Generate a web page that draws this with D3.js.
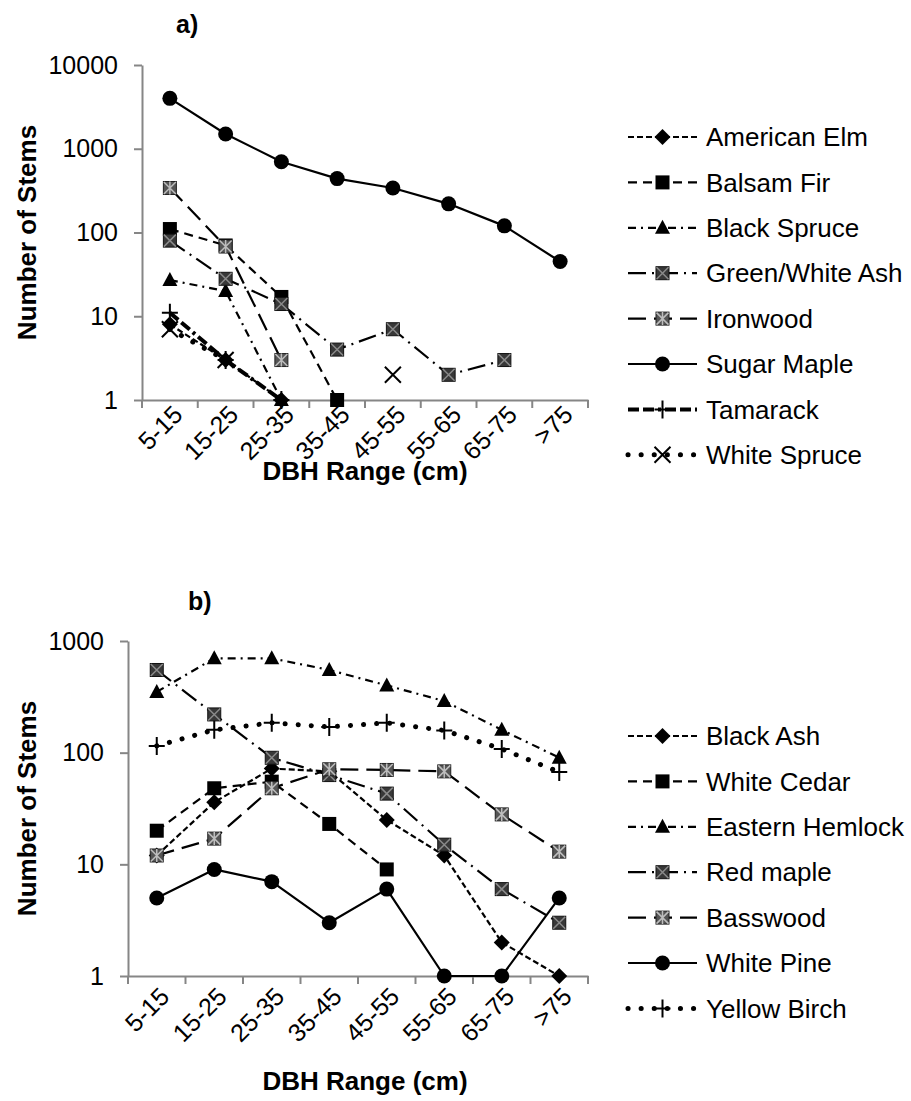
<!DOCTYPE html>
<html>
<head>
<meta charset="utf-8">
<script src="https://cdnjs.cloudflare.com/ajax/libs/d3/7.8.5/d3.min.js"></script>
<style>
  body { margin: 0; background: #fff; }
  text { font-family: "Liberation Sans", Arial, sans-serif; }
</style>
</head>
<body>
<svg id="chart" width="911" height="1101"></svg>
<script>
// DBH classes (x axis)
var dbhRanges = ["5-15", "15-25", "25-35", "35-45", "45-55", "55-65", "65-75", ">75"];

// panel a) - null = zero count, not drawn on log axis
var americanElm   = [8, 3, 1, null, null, null, null, null];
var balsamFir     = [110, 70, 17, 1, null, null, null, null];
var blackSpruce   = [27, 20, 1, null, null, null, null, null];
var greenWhiteAsh = [80, 28, 14, 4, 7, 2, 3, null];
var ironwood      = [340, 68, 3, null, null, null, null, null];
var sugarMaple    = [4000, 1500, 700, 440, 340, 220, 120, 45];
var tamarack      = [11, 3, 1, null, null, null, null, null];
var whiteSpruce   = [7, 3, null, null, 2, null, null, null];

// panel b)
var blackAsh       = [12, 36, 72, 68, 25, 12, 2, 1];
var whiteCedar     = [20, 48, 55, 23, 9, null, null, null];
var easternHemlock = [350, 700, 700, 550, 400, 290, 160, 90];
var redMaple       = [550, 220, 90, 63, 43, 15, 6, 3];
var basswood       = [12, 17, 48, 71, 70, 68, 28, 13];
var whitePine      = [5, 9, 7, 3, 6, 1, 1, 5];
var yellowBirch    = [115, 160, 185, 170, 185, 158, 108, 67];

var ticksA = [1, 10, 100, 1000, 10000];
var ticksB = [1, 10, 100, 1000];

// line styles (excel-ish dash types)
var styles = {
  sysDash:   { dash: "6,3", w: 2.2 },
  dash:      { dash: "9,6", w: 2.2 },
  dashDot:   { dash: "8,5,2,5", w: 2.2 },
  lgDashDot: { dash: "18,6,2,6", w: 2.2 },
  lgDash:    { dash: "18,8", w: 2.2 },
  solid:     { dash: null, w: 2.2 },
  thick:     { dash: "11,4,11,4,3,4", w: 4 },
  dots:      { dash: "0.1,13", w: 5, cap: "round" }
};

var panelA = {
  tag: "a)", tagX: 176, tagY: 33,
  top: 65, bottom: 400, left: 142, right: 588,
  ticks: ticksA, legendY: 137, labelDy: 10, titleY: 480,
  series: [
    { name: "American Elm", values: americanElm, line: "sysDash", mark: "diamond" },
    { name: "Balsam Fir", values: balsamFir, line: "dash", mark: "square" },
    { name: "Black Spruce", values: blackSpruce, line: "dashDot", mark: "triangle" },
    { name: "Green/White Ash", values: greenWhiteAsh, line: "lgDashDot", mark: "xsquare" },
    { name: "Ironwood", values: ironwood, line: "lgDash", mark: "starsquare" },
    { name: "Sugar Maple", values: sugarMaple, line: "solid", mark: "circle" },
    { name: "Tamarack", values: tamarack, line: "thick", mark: "plus" },
    { name: "White Spruce", values: whiteSpruce, line: "dots", mark: "cross" }
  ]
};

var panelB = {
  tag: "b)", tagX: 188, tagY: 610,
  top: 641, bottom: 976, left: 128, right: 588,
  ticks: ticksB, legendY: 736, labelDy: 16, titleY: 1090,
  series: [
    { name: "Black Ash", values: blackAsh, line: "sysDash", mark: "diamond" },
    { name: "White Cedar", values: whiteCedar, line: "dash", mark: "square" },
    { name: "Eastern Hemlock", values: easternHemlock, line: "dashDot", mark: "triangle" },
    { name: "Red maple", values: redMaple, line: "lgDashDot", mark: "xsquare" },
    { name: "Basswood", values: basswood, line: "lgDash", mark: "starsquare" },
    { name: "White Pine", values: whitePine, line: "solid", mark: "circle" },
    { name: "Yellow Birch", values: yellowBirch, line: "dots", mark: "plus" }
  ]
};

var svg = d3.select("#chart");
svg.append("rect").attr("width", 911).attr("height", 1101).attr("fill", "#fff");

function drawMarker(g, type, cx, cy) {
  var m = g.append("g").attr("transform", "translate(" + cx + "," + cy + ")");
  if (type == "diamond") {
    m.append("path").attr("d", "M0,-8L8,0L0,8L-8,0Z").attr("fill", "#000");
  } else if (type == "square") {
    m.append("rect").attr("x", -7).attr("y", -7).attr("width", 14).attr("height", 14).attr("fill", "#000");
  } else if (type == "triangle") {
    m.append("path").attr("d", "M0,-8L7.5,6L-7.5,6Z").attr("fill", "#000");
  } else if (type == "xsquare") {
    m.append("rect").attr("x", -6.5).attr("y", -6.5).attr("width", 13).attr("height", 13)
      .attr("fill", "#383838").attr("stroke", "#111").attr("stroke-width", 1);
    m.append("path").attr("d", "M-6,-6L6,6M6,-6L-6,6").attr("stroke", "#8a8a8a").attr("stroke-width", 1.5);
  } else if (type == "starsquare") {
    m.append("rect").attr("x", -6.5).attr("y", -6.5).attr("width", 13).attr("height", 13)
      .attr("fill", "#555").attr("stroke", "#222").attr("stroke-width", 1);
    m.append("path").attr("d", "M-6,-6L6,6M6,-6L-6,6M0,-6.5L0,6.5").attr("stroke", "#bdbdbd").attr("stroke-width", 1.5);
  } else if (type == "circle") {
    m.append("circle").attr("r", 7.5).attr("fill", "#000");
  } else if (type == "plus") {
    m.append("path").attr("d", "M-8,0L8,0M0,-9L0,9").attr("stroke", "#000").attr("stroke-width", 2);
  } else if (type == "cross") {
    m.append("path").attr("d", "M-8,-8L8,8M8,-8L-8,8").attr("stroke", "#000").attr("stroke-width", 2);
  }
}

function drawPanel(p) {
  var x = d3.scaleBand().domain(dbhRanges).range([p.left, p.right]);
  var y = d3.scaleLog().domain([1, d3.max(p.ticks)]).range([p.bottom, p.top]);
  var cx = function(c) { return x(c) + x.bandwidth() / 2; };

  // y axis
  var yAxis = svg.append("g")
    .attr("transform", "translate(" + p.left + ",0)")
    .call(d3.axisLeft(y).tickValues(p.ticks).tickFormat(d3.format("d")).tickSize(8).tickSizeOuter(0).tickPadding(16));
  yAxis.select(".domain").attr("stroke", "#868686").attr("stroke-width", 2);
  yAxis.selectAll(".tick line").attr("stroke", "#868686").attr("stroke-width", 2);
  yAxis.selectAll(".tick text").attr("font-size", 25).attr("fill", "#000")
    .attr("font-family", "Liberation Sans, Arial, sans-serif");

  // x axis: labels at the band centres, tick marks at band edges
  var xAxis = svg.append("g")
    .attr("transform", "translate(0," + p.bottom + ")")
    .call(d3.axisBottom(x).tickSize(0).tickSizeOuter(0));
  xAxis.select(".domain").attr("stroke", "#868686").attr("stroke-width", 2);
  xAxis.selectAll(".tick text")
    .attr("font-size", 25).attr("fill", "#000")
    .attr("font-family", "Liberation Sans, Arial, sans-serif")
    .attr("text-anchor", "end")
    .attr("y", 0).attr("dy", "0.35em")
    .attr("transform", "translate(8," + p.labelDy + ") rotate(-45)");
  var edges = dbhRanges.map(function(c) { return x(c); }).concat([p.right]);
  xAxis.selectAll(".edge").data(edges).enter().append("line")
    .attr("x1", function(d) { return d; }).attr("x2", function(d) { return d; })
    .attr("y1", 0).attr("y2", 8)
    .attr("stroke", "#868686").attr("stroke-width", 2);

  // titles
  svg.append("text").attr("x", p.tagX).attr("y", p.tagY)
    .attr("font-size", 25).attr("font-weight", "bold").text(p.tag);
  svg.append("text")
    .attr("transform", "translate(36," + (p.top + p.bottom) / 2 + ") rotate(-90)")
    .attr("text-anchor", "middle").attr("font-size", 26).attr("font-weight", "bold")
    .text("Number of Stems");
  svg.append("text")
    .attr("x", 365).attr("y", p.titleY)
    .attr("text-anchor", "middle").attr("font-size", 26).attr("font-weight", "bold")
    .text("DBH Range (cm)");

  var line = d3.line()
    .defined(function(d) { return d.v != null; })
    .x(function(d) { return cx(d.c); })
    .y(function(d) { return y(d.v); });

  p.series.forEach(function(s) {
    var st = styles[s.line];
    var pts = dbhRanges.map(function(c, i) { return { c: c, v: s.values[i] }; });
    var g = svg.append("g");
    g.append("path").datum(pts).attr("d", line)
      .attr("fill", "none").attr("stroke", "#000")
      .attr("stroke-width", st.w)
      .attr("stroke-dasharray", st.dash)
      .attr("stroke-linecap", st.cap || "butt")
      .attr("stroke-linejoin", "round");
    pts.forEach(function(d) {
      if (d.v != null) drawMarker(g, s.mark, cx(d.c), y(d.v));
    });
  });

  // legend
  var lg = svg.append("g");
  p.series.forEach(function(s, i) {
    var st = styles[s.line];
    var ly = p.legendY + i * 45.4;
    lg.append("line").attr("x1", 628).attr("x2", 697).attr("y1", ly).attr("y2", ly)
      .attr("stroke", "#000").attr("stroke-width", st.w)
      .attr("stroke-dasharray", st.dash).attr("stroke-linecap", st.cap || "butt");
    drawMarker(lg, s.mark, 662.5, ly);
    lg.append("text").attr("x", 706).attr("y", ly).attr("dy", "0.35em")
      .attr("font-size", 26).text(s.name);
  });
}

drawPanel(panelA);
drawPanel(panelB);
</script>
</body>
</html>
